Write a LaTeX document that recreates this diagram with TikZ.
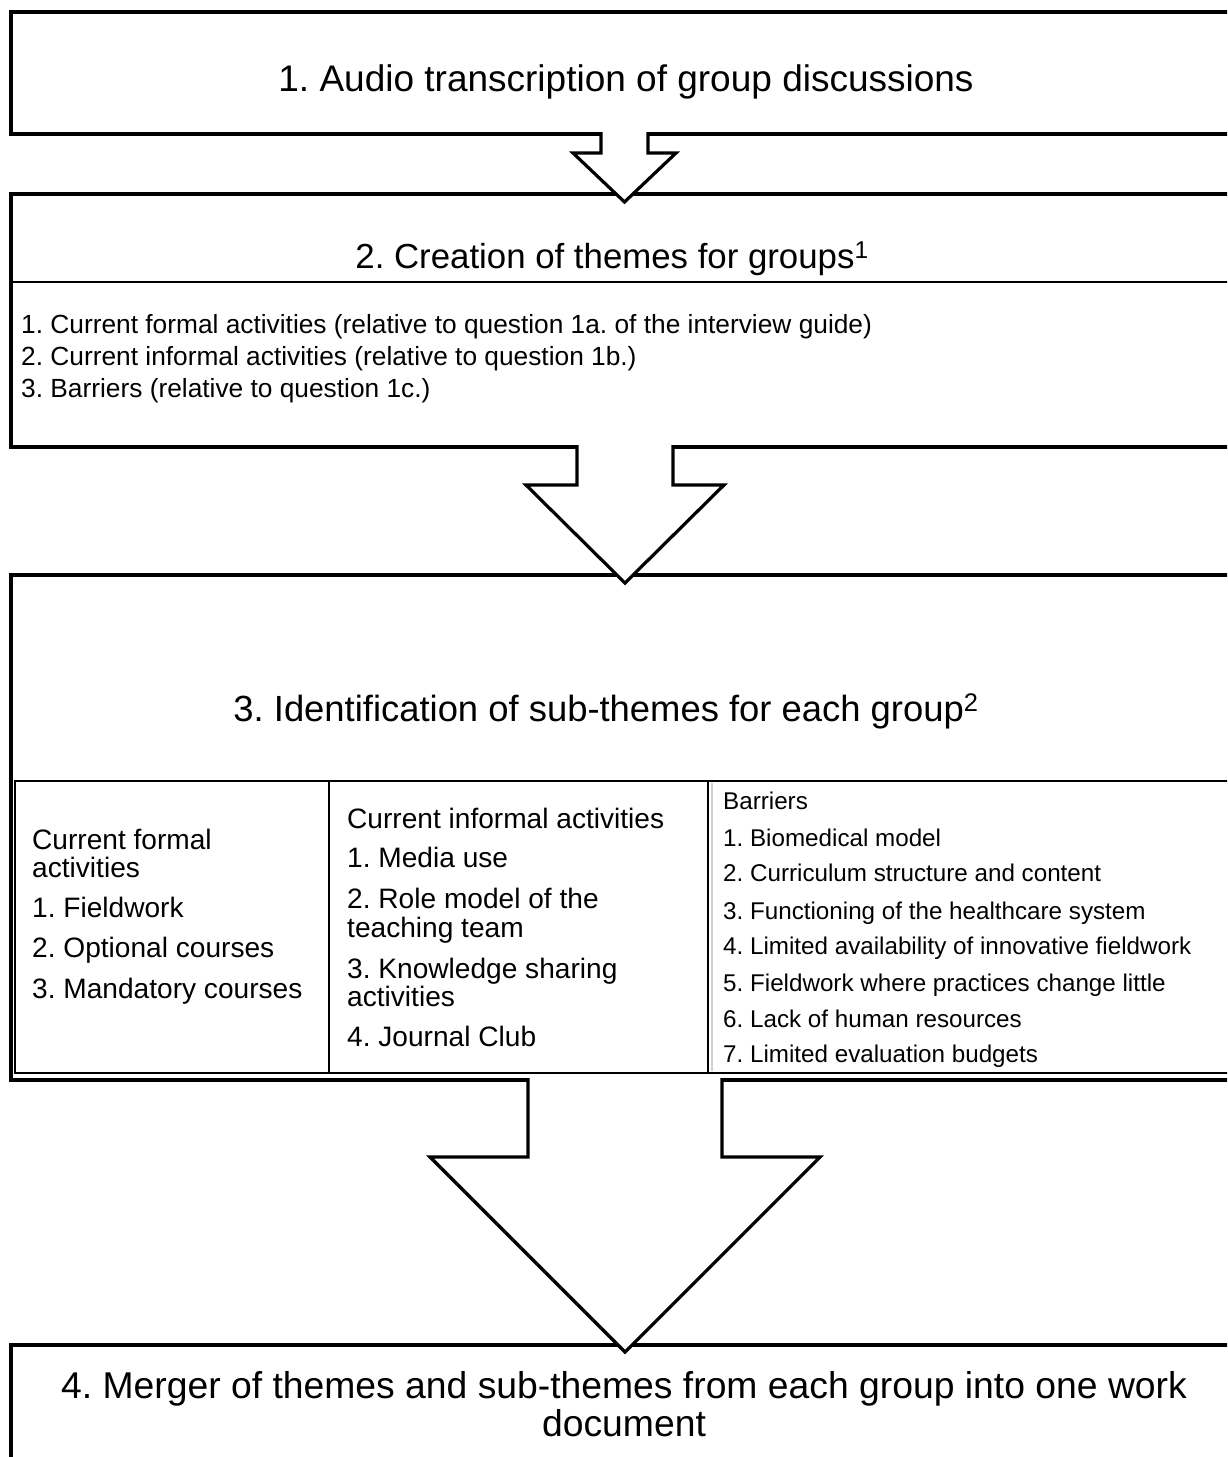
\documentclass[tikz,border=0pt]{standalone}
\usepackage{fontspec}
\setmainfont{Liberation Sans}
\frenchspacing
\newcommand\blkarrow[6]{% #1 centre x, #2 top y, #3 shaft half width, #4 shoulder y, #5 head half width, #6 tip y
  \fill[white] (#1-#3,#2-2.6) rectangle (#1+#3,#4);
  \filldraw[arrowline] (#1-#3,#2-2) -- (#1-#3,#4) -- (#1-#5,#4) -- (#1,#6) -- (#1+#5,#4) -- (#1+#3,#4) -- (#1+#3,#2-2);
}
\begin{document}
\begin{tikzpicture}[x=1pt, y=-1pt,
  box/.style={draw, line width=4pt, inner sep=0pt, outer sep=0pt, anchor=north west, minimum width=1240pt},
  sepline/.style={line width=2.2pt},
  tabline/.style={line width=2.2pt},
  faintline/.style={line width=1.5pt, black!18},
  arrowline/.style={line width=3.2pt, fill=white, line join=miter, miter limit=10},
  title/.style={font=\fontsize{37.3}{38}\selectfont, anchor=base, inner sep=0pt},
  item/.style={font=\fontsize{26.3}{30}\selectfont, anchor=base west, inner sep=0pt},
  colab/.style={font=\fontsize{28.1}{28}\selectfont, anchor=base west, inner sep=0pt},
  colc/.style={font=\fontsize{24.2}{30}\selectfont, anchor=base west, inner sep=0pt}]
\useasboundingbox (0,0) rectangle (1227,1457);
\clip (0,0) rectangle (1227,1457);
\fill[white] (0,0) rectangle (1227,1457);

% boxes
\node[box, minimum height=122pt] (b1) at (11,12) {};
\node[box, minimum height=253pt] (b2) at (11,194) {};
\draw[sepline] (11,282) -- (1250,282);
\node[box, minimum height=505pt] (b3) at (11,575) {};
\node[draw, tabline, inner sep=0pt, outer sep=0pt, anchor=north west, minimum width=1240pt, minimum height=292pt] (tbl) at (15,781) {};
\draw[tabline] (329,781) -- (329,1073);
\draw[tabline] (708,781) -- (708,1073);
\draw[faintline] (712,783) -- (712,1071);
\node[box, minimum height=300pt] (b4) at (11,1345) {};

% block arrows
\blkarrow{624.5}{134}{23.5}{153}{51.5}{202}
\blkarrow{625}{447}{48}{485}{99}{583}
\blkarrow{625}{1080}{97}{1157}{195}{1352}

% titles
\node[title, font=\fontsize{37}{38}\selectfont] (t1) at (626,91) {1. Audio transcription of group discussions};
\node[title, font=\fontsize{34.8}{38}\selectfont] (t2) at (612,268) {2. Creation of themes for groups\textsuperscript{1}};
\node[title, font=\fontsize{36.4}{38}\selectfont] (t3) at (606,721) {3. Identification of sub-themes for each group\textsuperscript{2}};
\node[title] (t4a) at (624,1398) {4. Merger of themes and sub-themes from each group into one work};
\node[title] (t4b) at (624,1436) {document};

% box 2 items
\node[item] (i1) at (21,333) {1. Current formal activities (relative to question 1a. of the interview guide)};
\node[item] (i2) at (21,365) {2. Current informal activities (relative to question 1b.)};
\node[item] (i3) at (21,397) {3. Barriers (relative to question 1c.)};

% column 1
\node[colab] (a0) at (32,849) {Current formal};
\node[colab] (a0b) at (32,877) {activities};
\node[colab] (a1) at (32,917) {1. Fieldwork};
\node[colab] (a2) at (32,957) {2. Optional courses};
\node[colab] (a3) at (32,998) {3. Mandatory courses};

% column 2
\node[colab] (c0) at (347,828) {Current informal activities};
\node[colab] (c1) at (347,867) {1. Media use};
\node[colab] (c2) at (347,908) {2. Role model of the};
\node[colab] (c2b) at (347,937) {teaching team};
\node[colab] (c3) at (347,978) {3. Knowledge sharing};
\node[colab] (c3b) at (347,1006) {activities};
\node[colab] (c4) at (347,1046) {4. Journal Club};

% column 3
\node[colc] (d0) at (723,809) {Barriers};
\node[colc] (d1) at (723,846) {1. Biomedical model};
\node[colc] (d2) at (723,881) {2. Curriculum structure and content};
\node[colc] (d3) at (723,919) {3. Functioning of the healthcare system};
\node[colc] (d4) at (723,954) {4. Limited availability of innovative fieldwork};
\node[colc] (d5) at (723,991) {5. Fieldwork where practices change little};
\node[colc] (d6) at (723,1027) {6. Lack of human resources};
\node[colc] (d7) at (723,1062) {7. Limited evaluation budgets};
\end{tikzpicture}
\end{document}
